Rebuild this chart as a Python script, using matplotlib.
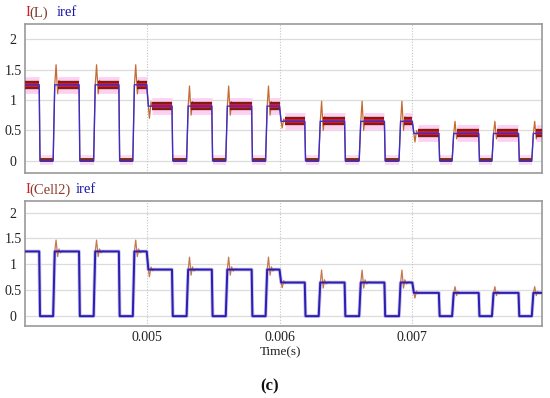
import numpy as np
import matplotlib.pyplot as plt

plt.rcParams['font.family'] = ['Liberation Serif', 'DejaVu Serif']

# time window (s) and reference levels per 1 ms segment
t_start, t_end = 0.004083, 0.007977
seg_starts = [0.004, 0.005, 0.006, 0.007]
levels = [1.25, 0.90, 0.65, 0.45]

# switching instants (ms)
fall_ms = [4.19, 4.49, 4.79, 5.19, 5.49, 5.79, 6.19, 6.49, 6.79, 7.20, 7.50, 7.80]
rise_ms = [4.295, 4.60, 4.895, 5.30, 5.595, 5.895, 6.295, 6.60, 6.90, 7.30, 7.60, 7.90]

# overshoot after each rising edge (per segment) and dip at each level change
over_top = [0.33, 0.33, 0.33, 0.20]
dip_top = [0.0, 0.20, 0.11, 0.14]
over_bot = [0.22, 0.24, 0.24, 0.12]
dip_bot = [0.0, 0.14, 0.10, 0.10]

# ringing shape (ms after edge, fraction of peak)
spike_dt = [0.0, 0.010, 0.022, 0.032, 0.044, 0.058, 0.075]
spike_dv = [0.0, 1.0, -0.45, 0.22, -0.12, 0.05, 0.0]
dip_dt = [0.0, 0.008, 0.020, 0.032, 0.045, 0.060]
dip_dv = [0.0, -1.0, 0.35, -0.15, 0.06, 0.0]

ytick_vals = [0, 0.5, 1, 1.5, 2]
ytick_txt = ['0', '0.5', '1', '1.5', '2']
xtick_vals = [0.005, 0.006, 0.007]
xtick_txt = ['0.005', '0.006', '0.007']

rise_ramp = 0.012e-3
fall_ramp = 0.006e-3
step_ramp = 0.012e-3


def seg_of(t):
    return int(np.searchsorted(seg_starts, t, side='right')) - 1


events = [(f * 1e-3, 'fall') for f in fall_ms] + [(r * 1e-3, 'rise') for r in rise_ms] \
    + [(s, 'step') for s in seg_starts[1:]]
events.sort()


def build(over=None, dip=None):
    ts, vs = [t_start], [levels[seg_of(t_start)]]
    high = True
    for t, kind in events:
        k = seg_of(t)
        lvl = levels[k]
        if kind == 'fall':
            ts += [t, t + fall_ramp]; vs += [lvl, 0]
            high = False
        elif kind == 'rise':
            ts += [t, t + rise_ramp]; vs += [0, lvl]
            if over is not None:
                for dt, dv in zip(spike_dt[1:], spike_dv[1:]):
                    ts.append(t + rise_ramp + dt * 1e-3); vs.append(lvl + dv * over[k])
            high = True
        elif high:
            old = levels[k - 1]
            ts += [t, t + step_ramp]; vs += [old, lvl]
            if dip is not None:
                for dt, dv in zip(dip_dt[1:], dip_dv[1:]):
                    ts.append(t + step_ramp + dt * 1e-3); vs.append(lvl + dv * dip[k])
    ts.append(t_end); vs.append(vs[-1])
    return np.array(ts), np.array(vs)


t_ref, v_ref = build()
t_top, v_top = build(over_top, dip_top)
t_bot, v_bot = build(over_bot, dip_bot)

# flat parts of I(L) (ripple band)
hi_segs, lo_segs = [], []
edges = sorted([(f * 1e-3, 'fall') for f in fall_ms] + [(r * 1e-3, 'rise') for r in rise_ms])
prev_t, prev_kind = t_start, 'rise'
for t, kind in edges + [(t_end, 'end')]:
    if prev_kind == 'rise':
        a = prev_t + (0.035e-3 if prev_t > t_start else 0)
        cuts = [s for s in seg_starts if a < s < t]
        pts = [a] + cuts + [t]
        for i in range(len(pts) - 1):
            x0 = pts[i] + (0.04e-3 if pts[i] in cuts else 0)
            hi_segs.append((x0, pts[i + 1], levels[seg_of(pts[i] + 1e-9)]))
    else:
        lo_segs.append((prev_t + fall_ramp, t))
    prev_t, prev_kind = t, kind

fig = plt.figure(figsize=(5.5, 3.98), dpi=100)
ax1 = fig.add_axes([25 / 550, 1 - 173 / 398, 517 / 550, 149 / 398])
ax2 = fig.add_axes([25 / 550, 1 - 326 / 398, 517 / 550, 125.3 / 398])

for ax in (ax1, ax2):
    ax.set_xlim(t_start, t_end)
    for y in ytick_vals:
        ax.axhline(y, color='#dcdcdc', lw=0.9, zorder=0)
    for x in xtick_vals:
        ax.axvline(x, color='#c4c4c4', lw=0.8, ls=(0, (1, 1.5)), zorder=0)
    ax.set_yticks(ytick_vals)
    ax.set_yticklabels(ytick_txt, ha='center')
    ax.set_xticks(xtick_vals)
    ax.tick_params(axis='both', length=0, labelsize=10, colors='#222222')
    ax.tick_params(axis='y', pad=8.6)
    ax.tick_params(axis='x', pad=3.5)
    for sp in ax.spines.values():
        sp.set_color('#9a9a9a')
        sp.set_linewidth(1.2)

ax1.set_ylim(-0.2, 2.25)
ax2.set_ylim(-0.19, 2.23)
ax1.set_xticklabels([])
ax2.set_xticklabels(xtick_txt)

# top panel: I(L) with ripple band
for x0, x1, lv in hi_segs:
    ax1.plot([x0, x1], [lv, lv], color='#fcd0f2', lw=12, solid_capstyle='butt', zorder=1)
for x0, x1 in lo_segs:
    ax1.plot([x0, x1], [0.01, 0.01], color='#fcd8f4', lw=7, solid_capstyle='butt', zorder=1)
ax1.plot(t_top, v_top, color='#c46a34', lw=0.9, zorder=2)
for x0, x1, lv in hi_segs:
    ax1.plot([x0, x1], [lv, lv], color='#7a1e10', lw=6, solid_capstyle='butt', zorder=3)
    ax1.plot([x0, x1], [lv, lv], color='#e0142a', lw=3, solid_capstyle='butt', zorder=3)
for x0, x1 in lo_segs:
    ax1.plot([x0, x1], [0.012, 0.012], color='#7a2e12', lw=2.8, solid_capstyle='butt', zorder=3)
ax1.plot(t_ref, v_ref, color='#3a2ed0', lw=1.0, zorder=4)

# bottom panel: I(Cell2)
ax2.plot(t_ref, v_ref, color='#c4c0f4', lw=2.6, zorder=2)
ax2.plot(t_bot, v_bot, color='#c47850', lw=0.9, zorder=3)
ax2.plot(t_ref, v_ref, color='#2a1eb4', lw=1.4, zorder=4)

# labels
fig.text(25 / 550, 1 - 13 / 398, 'I', color='#cc1f2e', fontsize=10.5, va='center')
fig.text(29 / 550, 1 - 13 / 398, '(L)', color='#7a3c2c', fontsize=10.5, va='center')
fig.text(57 / 550, 1 - 13 / 398, 'iref', color='#1a14a8', fontsize=10.5, va='center')
fig.text(25 / 550, 1 - 190 / 398, 'I', color='#cc1f2e', fontsize=10.5, va='center')
fig.text(29 / 550, 1 - 190 / 398, '(Cell2)', color='#8a3c2c', fontsize=10.5, va='center')
fig.text(76 / 550, 1 - 190 / 398, 'iref', color='#1a14a8', fontsize=10.5, va='center')

fig.text(281 / 550, 1 - 352 / 398, 'Time(s)', color='#222222', fontsize=9.5, ha='center', va='center')
fig.text(270 / 550, 1 - 386 / 398, '(c)', color='#111111', fontsize=12, fontweight='bold',
         ha='center', va='center')

fig.savefig('out.png', dpi=100, facecolor='white')
